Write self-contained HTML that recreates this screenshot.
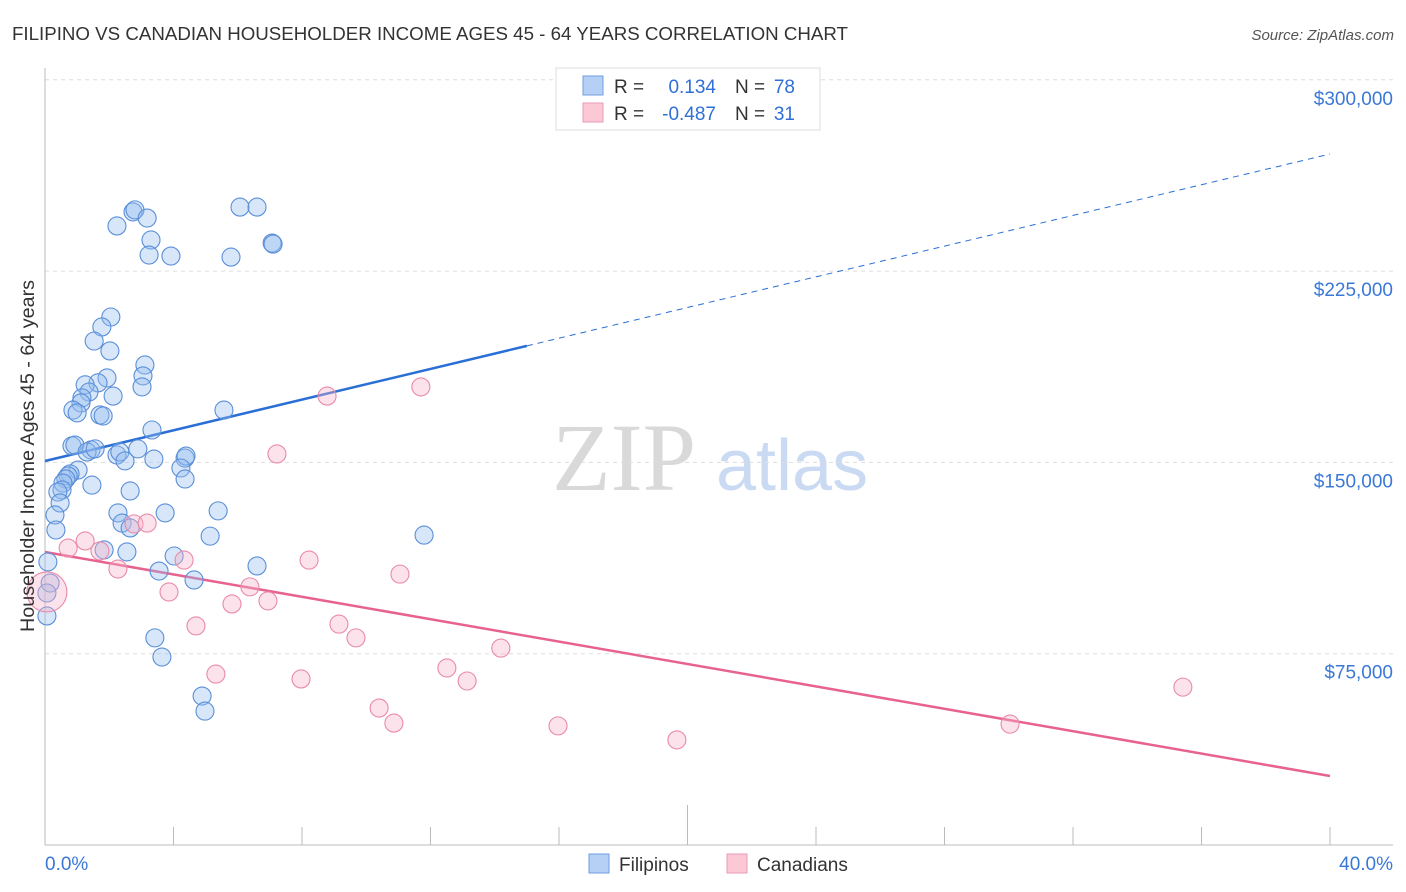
<!DOCTYPE html>
<html><head><meta charset="utf-8"><style>
body{margin:0;background:#fff;font-family:"Liberation Sans",sans-serif;}
svg{display:block}
</style></head><body>
<svg width="1406" height="892" xmlns="http://www.w3.org/2000/svg">
<text x="12" y="40" font-size="18" fill="#333" textLength="836" lengthAdjust="spacingAndGlyphs">FILIPINO VS CANADIAN HOUSEHOLDER INCOME AGES 45 - 64 YEARS CORRELATION CHART</text>
<text x="1394" y="40" font-size="15" fill="#555" font-style="italic" text-anchor="end">Source: ZipAtlas.com</text>
<g>
<text x="552" y="490" font-size="96" fill="#d9d9d9" font-family="Liberation Serif,serif">ZIP</text>
<text x="716" y="490" font-size="72" fill="#c9daf2">atlas</text>
</g>
<g id="grid"></g>
<g id="axes"></g>
<g id="lines"></g>
<g id="points"></g>
<text transform="translate(34,456) rotate(-90)" font-size="19" fill="#333" text-anchor="middle" textLength="352" lengthAdjust="spacingAndGlyphs">Householder Income Ages 45 - 64 years</text>
<g>
<rect x="556" y="68" width="264" height="62" fill="#fff" stroke="#ddd"/>
<rect x="583" y="76" width="20" height="19" fill="#b6d0f5" stroke="#6f9ee0"/>
<rect x="583" y="103" width="20" height="19" fill="#fcc8d6" stroke="#e99ab2"/>
<text x="614" y="93" font-size="19" fill="#333">R =</text>
<text x="716" y="93" font-size="19" fill="#2f6fd6" text-anchor="end">0.134</text>
<text x="735" y="93" font-size="19" fill="#333">N =</text>
<text x="795" y="93" font-size="19" fill="#2f6fd6" text-anchor="end">78</text>
<text x="614" y="120" font-size="19" fill="#333">R =</text>
<text x="716" y="120" font-size="19" fill="#2f6fd6" text-anchor="end">-0.487</text>
<text x="735" y="120" font-size="19" fill="#333">N =</text>
<text x="795" y="120" font-size="19" fill="#2f6fd6" text-anchor="end">31</text>
</g>
<g>
<rect x="589" y="854" width="20" height="19" fill="#b6d0f5" stroke="#6f9ee0"/>
<text x="619" y="871" font-size="19" fill="#333">Filipinos</text>
<rect x="727" y="854" width="20" height="19" fill="#fcc8d6" stroke="#e99ab2"/>
<text x="757" y="871" font-size="19" fill="#333">Canadians</text>
</g>
<script>
const yTicks=[75,150,225,300];
const yTickLabels=["$75,000","$150,000","$225,000","$300,000"];
const xTickLabels=["0.0%","40.0%"];
const blueX=[2.24,2.74,2.80,3.18,3.30,3.24,3.92,6.07,6.60,5.79,7.07,7.10,2.05,1.77,1.53,2.02,3.11,3.05,3.02,1.93,1.65,1.25,1.37,1.15,1.12,2.12,0.87,1.00,1.71,1.81,5.57,3.33,0.84,0.93,1.43,1.31,1.56,2.89,2.24,2.33,2.49,3.39,4.36,4.39,4.23,4.36,1.03,0.78,0.72,0.65,0.56,0.53,0.40,0.47,1.46,2.65,0.31,0.34,3.74,5.39,2.27,2.40,2.65,5.14,11.80,1.84,2.55,4.02,3.55,4.64,6.60,0.09,0.16,0.06,0.06,3.42,3.64,4.89,4.98];
const blueY=[242.7,248.2,249.0,245.8,237.2,231.3,230.9,250.1,250.1,230.5,236.0,235.6,207.0,203.1,197.6,193.7,188.2,183.9,179.6,183.1,181.2,180.4,177.6,175.3,173.3,176.0,170.5,169.4,168.6,168.2,170.5,162.7,156.5,156.8,154.9,154.1,155.3,155.3,152.9,154.1,150.6,151.3,151.7,152.5,147.8,143.5,147.0,145.5,144.7,143.5,141.9,139.2,138.4,134.1,141.1,138.8,129.4,123.5,130.2,131.0,130.2,126.2,124.3,121.1,121.5,115.7,114.9,113.3,107.4,103.9,109.4,111.0,102.7,98.8,89.8,81.2,73.7,58.4,52.5];
const pinkX=[0.06,0.72,1.25,1.71,2.27,2.77,3.18,4.33,3.86,4.70,5.82,6.38,6.94,7.22,5.32,7.97,8.22,8.78,9.15,9.68,11.05,10.40,10.86,11.70,12.51,13.14,14.19,15.97,19.67,30.04,35.42];
const pinkY=[99.2,116.4,119.2,115.3,108.2,125.9,126.2,111.7,99.2,85.9,94.5,101.2,95.7,153.3,67.0,65.1,111.7,176.0,86.6,81.2,106.2,53.7,47.8,179.6,69.4,64.3,77.2,46.7,41.2,47.4,61.9];
const blueTrend=[150.55,270.9];
const pinkTrend=[114.87,27.05];
const NS="http://www.w3.org/2000/svg";
const X=v=>45+v/40*1285;
const Y=v=>845-v/75*191.3;
function mk(tag,attrs,parent){const e=document.createElementNS(NS,tag);for(const k in attrs)e.setAttribute(k,attrs[k]);document.getElementById(parent).appendChild(e);return e;}
yTicks.forEach((t,i)=>{
 const g=mk('line',{x1:45,x2:1393,y1:Y(t),y2:Y(t),stroke:'#ddd','stroke-dasharray':'4,4'},'grid');
 
 
 const l=mk('text',{x:1393,y:Y(t)+25,'font-size':19,fill:'#3a78d8','text-anchor':'end'},'axes');
 l.textContent=yTickLabels[i];
 
 
});
const ya=mk('line',{x1:45,x2:45,y1:68,y2:845,stroke:'#bbb'},'axes');


const xa=mk('line',{x1:45,x2:1393,y1:845,y2:845,stroke:'#bbb'},'axes');


for(let i=0;i<=10;i++){
 const t=mk('line',{x1:X(i*4),x2:X(i*4),y1:i==5?805:827,y2:845,stroke:'#bbb'},'axes');
 
 
}
[[0,'start',45],[40,'end',1393]].forEach((a,i)=>{
 const t=mk('text',{x:a[2],y:870,'font-size':19,fill:'#3a78d8','text-anchor':a[1]},'axes');
 t.textContent=xTickLabels[i];
 
 
});
const bxEnd=15;
const bAt=x=>blueTrend[0]+(blueTrend[1]-blueTrend[0])*x/40;
let l1=mk('line',{x1:X(0),y1:Y(bAt(0)),x2:X(bxEnd),y2:Y(bAt(bxEnd)),stroke:'#2a6fd6','stroke-width':2.5},'lines');


let l2=mk('line',{x1:X(bxEnd),y1:Y(bAt(bxEnd)),x2:X(40),y2:Y(bAt(40)),stroke:'#2a6fd6','stroke-width':1,'stroke-dasharray':'6,5'},'lines');


let l3=mk('line',{x1:X(0),y1:Y(pinkTrend[0]),x2:X(40),y2:Y(pinkTrend[1]),stroke:'#e8628f','stroke-width':2.5},'lines');


blueX.forEach((x,i)=>{
 const c=mk('circle',{cx:X(x),cy:Y(blueY[i]),r:9,fill:'rgba(150,190,240,0.38)',stroke:'#5a8fd8','stroke-width':1.1},'points');
 
 
});
pinkX.forEach((x,i)=>{
 const c=mk('circle',{cx:X(x),cy:Y(pinkY[i]),r:i==0?20:9,fill:'rgba(248,180,200,0.38)',stroke:'#e98aa8','stroke-width':1.1},'points');
 
 
});
</script>
</svg>
</body></html>
